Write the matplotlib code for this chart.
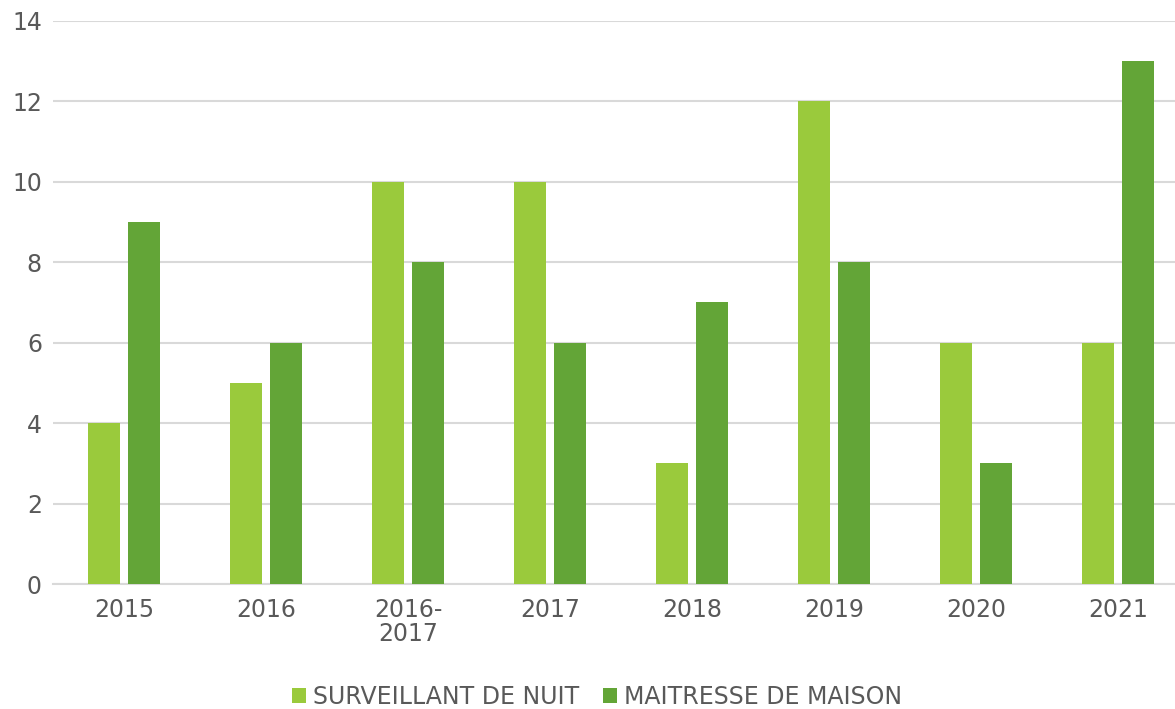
import matplotlib
matplotlib.use('Agg')
import matplotlib.pyplot as plt
import numpy as np

plt.rcParams['font.family'] = ['DejaVu Sans']

categories = ['2015', '2016', '2016-\n2017', '2017', '2018', '2019', '2020', '2021']
surveillant = [4, 5, 10, 10, 3, 12, 6, 6]
maitresse = [9, 6, 8, 6, 7, 8, 3, 13]

c_light = '#9ACA3C'
c_dark = '#63A537'
txt = '#595959'

fig = plt.figure(figsize=(11.75, 7.09), dpi=100)
ax = fig.add_axes([0.0451, 0.1763, 0.9668, 0.7941])

x = np.arange(len(categories))
w = 0.225
off = 0.141
ax.bar(x - off, surveillant, w, color=c_light, label='SURVEILLANT DE NUIT', zorder=3)
ax.bar(x + off, maitresse, w, color=c_dark, label='MAITRESSE DE MAISON', zorder=3)

ax.set_xlim(-0.5, len(categories) - 0.5)
ax.set_ylim(0, 14)
ax.set_yticks(range(0, 15, 2))
ax.set_xticks(x)
ax.set_xticklabels(categories, linespacing=1.0)
ax.yaxis.grid(True, color='#d9d9d9', lw=1.5, zorder=0)
for s in ['top', 'right', 'left']:
    ax.spines[s].set_visible(False)
ax.spines['bottom'].set_color('#d9d9d9')
ax.spines['bottom'].set_linewidth(1.5)
ax.tick_params(axis='both', length=0, labelsize=17, colors=txt)
ax.tick_params(axis='x', pad=10)
ax.tick_params(axis='y', pad=8)

fig.legend(loc='center', bbox_to_anchor=(0.508, 0.017), ncol=2, frameon=False,
           fontsize=17, labelcolor=txt, handlelength=0.6, handleheight=0.6,
           handletextpad=0.3, columnspacing=1.0)

fig.savefig('out.png', dpi=100)
